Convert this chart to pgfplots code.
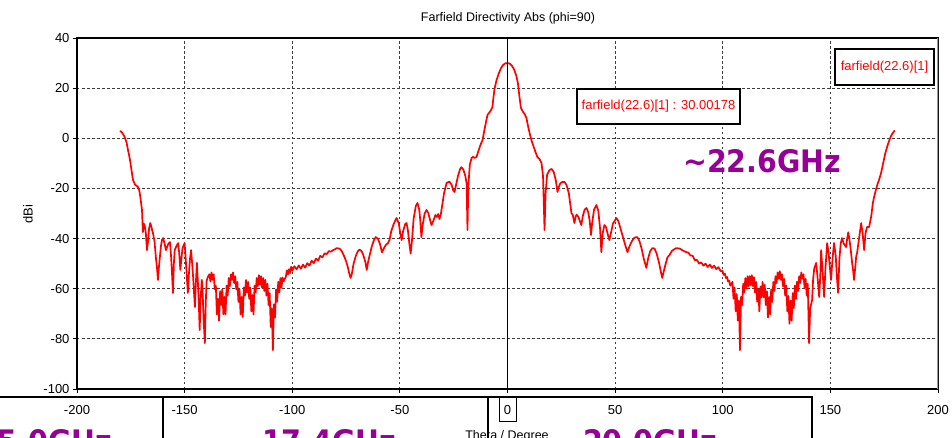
\documentclass[border=0pt]{standalone}
\usepackage{fontspec}
\setmainfont{Liberation Sans}
\newfontfamily\purplefont{DejaVu Sans}
\usepackage{pgfplots}
\pgfplotsset{compat=1.18}
\usepackage{pgfplotstable}
\definecolor{cstred}{RGB}{255,0,0}
\definecolor{mypurple}{RGB}{150,0,150}
\definecolor{gridgray}{RGB}{60,60,60}

\pgfplotstableread{
theta dbi
-180 3.0
-179 2.2
-178 0.8
-177 -1.5
-176.3 -4.7
-175.5 -8
-174.8 -12
-174 -16.6
-173 -18.5
-171.7 -19.4
-171 -21
-170.5 -24
-169.8 -28.6
-169.4 -37.4
-169 -34
-168.5 -35
-168 -38
-167.5 -44.6
-167 -41
-166.5 -36
-166 -33.8
-165.5 -35
-165 -37
-164.7 -37.8
-164 -41
-163.3 -48
-162.8 -52
-162.4 -56.5
-162 -52
-161.5 -47.4
-161 -43
-160.5 -40.5
-160 -39.8
-159.3 -42
-158.7 -44.6
-158 -43
-157.5 -42
-156.8 -41.4
-156.3 -47
-155.8 -55
-155.4 -61.7
-155 -50
-154.6 -44.5
-154 -43.4
-153.5 -42.5
-153 -41.8
-152.5 -46
-152 -52.5
-151.5 -48
-151 -44
-150.8 -43.4
-150 -41.8
-149.5 -48
-149 -55
-148.5 -61.7
-148 -54
-147.5 -48
-147 -44.6
-146.5 -50
-146 -56
-145.6 -62
-145.2 -67.3
-144.8 -58
-144.3 -49.7
-143.8 -58
-143.4 -66
-143 -76.5
-142.6 -64
-142 -56.5
-141.6 -62
-141.2 -72
-140.6 -81.7
-140.2 -66
-139.8 -57
-139.2 -55.3
-138.5 -54.25
-138 -57.1
-137.5 -53.5
-137 -56.5
-136.5 -54.25
-136 -60.25
-135.5 -58.75
-135 -70.25
-134.5 -64
-134 -72.75
-133.5 -61
-133 -66.5
-132.5 -60.25
-132 -70.25
-131.5 -63.25
-131 -70.25
-130.5 -58.75
-130 -62.75
-129.5 -55.75
-129 -59
-128.5 -54.25
-128 -56.5
-127.5 -53.5
-127 -57.75
-126.5 -55
-126 -60.25
-125.5 -57.25
-125 -65.25
-124.5 -60.25
-124 -70.25
-123.5 -63.25
-123 -71.3
-122.5 -59.5
-122 -62.75
-121.5 -56.5
-121 -61.5
-120.5 -57.25
-120 -64
-119.5 -59.5
-119 -69
-118.5 -62.5
-118 -70.25
-117.5 -58.75
-117 -61.5
-116.5 -55.75
-116 -59
-115.5 -54.6
-115 -58.4
-114.5 -55
-114 -59.6
-113.5 -55.75
-113 -60.9
-112.5 -56.5
-112 -62.75
-111.5 -58
-111 -66.5
-110.5 -61.75
-110 -75.25
-109.5 -67.75
-109 -84.5
-108.5 -66.25
-108 -71.5
-107.5 -60.25
-107 -65.25
-106.5 -57.25
-106 -61.5
-105.5 -55.75
-105 -59.6
-104.5 -55.5
-104 -57
-103 -55.3
-102.5 -52.7
-102 -54.3
-101.5 -52.2
-101 -53.8
-100.5 -51.2
-100 -52.8
-99 -51.0
-98 -52.3
-97 -50.7
-96 -52.0
-95 -50.4
-94 -51.6
-93 -49.8
-92 -50.8
-91 -48.8
-90 -49.8
-89 -48.0
-88 -48.8
-87 -46.9
-86 -47.5
-85 -45.9
-84 -46.2
-83 -45.0
-82 -45.2
-81 -44.6
-80 -44.2
-79.4 -43.8
-78 -44
-77 -45
-76 -46.8
-75 -49
-74.2 -51.3
-73.5 -54
-72.9 -55.7
-72.3 -54
-71.5 -50
-70.5 -47
-69.5 -45
-68.7 -44.4
-67.8 -45
-67 -46.5
-66 -49.5
-65.4 -52.5
-64.8 -49.5
-64 -46.5
-63 -43
-62 -40.5
-61.2 -39.4
-60.3 -40
-59.3 -42
-58.3 -45.5
-57.5 -44
-56.5 -42.5
-55.5 -41.8
-54.8 -40.5
-54 -37
-53 -34.5
-52 -32.5
-51.5 -31.8
-50.5 -34
-49.8 -38
-49.2 -40.6
-48.5 -37
-47.5 -34.2
-46.9 -33.8
-46.3 -36.5
-45.6 -42
-45 -46
-44.4 -41
-43.6 -32
-42.6 -27
-41.8 -25.8
-41 -28.5
-40.5 -33
-40 -39.4
-39.4 -34.5
-38.5 -30
-37.6 -28.6
-36.8 -29.8
-36 -32.5
-35.3 -34.6
-34.5 -33
-33.5 -30.6
-32.8 -31.4
-32.2 -30.2
-31.6 -32.2
-31 -30.4
-30.3 -26.5
-29.5 -22
-28.3 -17.8
-27 -17.3
-26 -18.5
-25.2 -20.8
-24.6 -21.4
-24 -19
-23 -15
-22 -12.2
-21.4 -11.5
-20.5 -12.5
-19.6 -15
-19 -18
-18.6 -36.6
-18.2 -19
-17.5 -10.5
-16.7 -7.9
-16 -7.4
-15.2 -7.8
-14.4 -7.5
-13.5 -5
-12.5 -2.5
-11.6 -0.7
-10.8 3
-10 6.5
-9.3 9.3
-8.5 10.2
-7.8 11
-7 12.5
-6.5 16.5
-6 19.8
-5.1 23.2
-4 26
-3 28
-2 29.3
-1 29.9
0 30.0
1 29.8
2 29.0
3 27.6
4 25.2
4.8 22.2
5.5 17
6.2 12.2
7 10.8
8 9.6
8.8 8.1
9.5 5
10.3 2
11.1 -0.7
12 -3
13 -5.5
13.9 -7.5
14.8 -8.2
15.8 -9.9
16.5 -15
17.2 -36.6
17.7 -22
18.4 -14.5
19.5 -12.7
20.5 -12.2
21.5 -13.5
22.5 -17
23.2 -21.4
23.8 -19.5
24.5 -18
25.5 -17.4
26.5 -17.4
27.4 -18.6
28.5 -22
29.7 -29.8
30.3 -30.5
31.1 -33.8
31.7 -31
32.2 -30.5
33 -31.5
33.6 -33
34.3 -34.6
35 -31
35.8 -28.5
36.7 -27.8
37.5 -29.5
38.2 -33
38.8 -38.6
39.3 -34
40.2 -28.5
41.3 -26.6
42.2 -29
43 -36
43.6 -45.4
44.2 -38
45 -34.6
45.8 -35.5
46.5 -38
47.3 -40.6
48 -38
49 -34
50.6 -31.8
51.5 -33
52.5 -36
53.5 -39
54.5 -42
55.7 -45.4
56.7 -43
57.8 -41
59 -39.6
60.3 -39.4
61.3 -41
62.3 -44
63.3 -48
64.5 -51.7
65.3 -48
66.3 -45
67.3 -43.8
68.3 -44
69.3 -46
70.5 -50
71.3 -53.5
71.9 -55.7
72.6 -53
73.5 -50
74.3 -47.5
75.2 -46.6
76.5 -44.8
78.4 -43.8
80 -44
81.5 -44.8
83 -45.4
84 -45.6
85 -46.8
86 -46.8
87 -48.6
88 -48.5
89 -50.0
90 -49.5
91 -50.8
92 -50.0
93 -51.3
94 -50.4
95 -51.7
96 -50.8
97 -52.2
98 -51.4
99 -53.0
99.8 -52.8
100.5 -54.5
101 -54.0
101.5 -55.8
102 -55.3
102.5 -57.2
103 -56.8
103.5 -58.8
104 -58.2
104.5 -57.25
105 -64
105.5 -59.5
106 -69
106.5 -62.1
107 -72.75
107.5 -64.75
108 -84.5
108.5 -63.25
109 -66.5
109.5 -58
110 -61.5
110.5 -55.75
111 -59.9
111.5 -55
112 -59
112.5 -55
113 -58.6
113.5 -54.6
114 -59
114.5 -55.4
115 -61.5
115.5 -57.25
116 -65.25
116.5 -60.25
117 -69
117.5 -59.1
118 -63.4
118.5 -57.25
119 -63.4
119.5 -58.4
120 -66.5
120.5 -61
121 -71.5
121.5 -63.25
122 -70.25
122.5 -60.25
123 -65.25
123.5 -57.25
124 -60.9
124.5 -55
125 -57.75
125.5 -53.5
126 -56
126.5 -53
127 -56.5
127.5 -54.25
128 -59
128.5 -56.1
129 -62.75
129.5 -58.75
130 -69
130.5 -62.9
131 -74
131.5 -64.75
132 -72.75
132.5 -61.75
133 -67.75
133.5 -58.75
134 -64
134.5 -57.25
135 -60.9
135.5 -55
136 -57.75
136.5 -53.5
137 -56
137.5 -54.25
138 -59.6
138.5 -56.1
139 -62.75
139.5 -58
140.1 -81.7
140.6 -68
141.5 -64.5
142 -56
142.5 -52
143.4 -49.7
144 -55
144.8 -63.3
145.3 -55
145.7 -44.6
146.3 -52
147.1 -63.3
147.7 -52
148.5 -41.8
149.2 -46
150.3 -56.5
151 -48
151.7 -41.8
152.5 -47
153 -55
153.6 -61.7
154.2 -48
154.8 -42
155.4 -39.8
156.2 -42
157.3 -43.4
157.8 -40
158.3 -37.5
158.8 -40
159.4 -44
160.1 -49.7
160.6 -53
161 -56.5
161.5 -52
162 -47
162.4 -45.8
163.3 -40
164.3 -33.8
165 -38
165.7 -44.6
166.3 -38
167 -35.4
168 -35.4
169 -31
169.7 -26
170.3 -23.4
171 -21
172 -18
172.6 -16.6
173.5 -14
174.5 -10
175.5 -6
176.5 -3
177.5 -0.5
178.5 1.5
179.6 2.8
180 3
}\farfield

\begin{document}
\begin{tikzpicture}[x=1pt,y=1pt]
\begin{axis}[
  at={(77pt,48pt)}, anchor=south west,
  scale only axis, width=861pt, height=351pt,
  xmin=-200, xmax=200, ymin=-100, ymax=40,
  xtick={-200,-150,-100,-50,0,50,100,150,200},
  ytick={-100,-80,-60,-40,-20,0,20,40},
  grid=major,
  major grid style={dash pattern=on 2.5pt off 2.5pt, gridgray, line width=0.9pt},
  axis line style={black, line width=1.1pt},
  tick align=outside, tick pos=left,
  major tick length=4pt,
  tick style={black, line width=0.9pt},
  /pgf/number format/assume math mode=true,
  ticklabel style={font=\fontsize{13}{15}\selectfont},
  xticklabel style={yshift=-9pt},
]
\addplot[cstred, line width=1.7pt, line join=round, no markers] table[x=theta,y=dbi] {\farfield};
\draw[black, line width=1.5pt] (axis cs:0,-100) -- (axis cs:0,40);
\draw[black!40, line width=1.1pt] (axis cs:200,-100) -- (axis cs:200,40);
\end{axis}

% title and labels
\node[anchor=base, font=\fontsize{12.5}{14}\selectfont] at (508pt,415pt) {Farfield Directivity Abs (phi=90)};
\node[rotate=90, font=\fontsize{13}{15}\selectfont] at (28pt,223pt) {dBi};
\node[anchor=base, font=\fontsize{12.5}{14}\selectfont] at (507pt,-2pt) {Theta / Degree};

% legend box
\draw[black, line width=2pt, fill=white] (835pt,388pt) rectangle (934pt,352pt);
\node[text=cstred, font=\fontsize{13}{15}\selectfont] at (884.5pt,370pt) {farfield(22.6)[1]};

% marker box
\draw[black, line width=2pt, fill=white] (577pt,348pt) rectangle (740pt,313pt);
\node[text=cstred, font=\fontsize{13}{15}\selectfont] at (658.5pt,330.5pt) {farfield(22.6)[1] : 30.00178};

% frequency annotation
\node[anchor=base west, inner sep=0pt, text=mypurple, font=\purplefont\bfseries\fontsize{31}{36}\selectfont] at (683pt,264pt) {\scalebox{0.92}[1]{\textasciitilde22.6GHz}};

% bottom overlay (cropped slide boxes)
\draw[black, line width=2pt] (-5pt,40pt) -- (813pt,40pt);
\draw[black, line width=2pt] (163pt,40pt) -- (163pt,-10pt);
\draw[black, line width=2pt] (488pt,40pt) -- (488pt,-10pt);
\draw[black, line width=2pt] (812pt,40pt) -- (812pt,-10pt);
\draw[black, line width=1pt] (499pt,40pt) rectangle (516pt,16pt);
\node[anchor=base west, inner sep=0pt, text=mypurple, font=\purplefont\bfseries\fontsize{31}{36}\selectfont] at (-46pt,-15pt) {\scalebox{0.92}[1]{\textasciitilde15.0GHz}};
\node[anchor=base west, inner sep=0pt, text=mypurple, font=\purplefont\bfseries\fontsize{31}{36}\selectfont] at (238pt,-15pt) {\scalebox{0.92}[1]{\textasciitilde17.4GHz}};
\node[anchor=base west, inner sep=0pt, text=mypurple, font=\purplefont\bfseries\fontsize{31}{36}\selectfont] at (559pt,-15pt) {\scalebox{0.92}[1]{\textasciitilde20.0GHz}};

\pgfresetboundingbox
\path[use as bounding box] (0pt,0pt) rectangle (952pt,437pt);
\end{tikzpicture}
\end{document}
